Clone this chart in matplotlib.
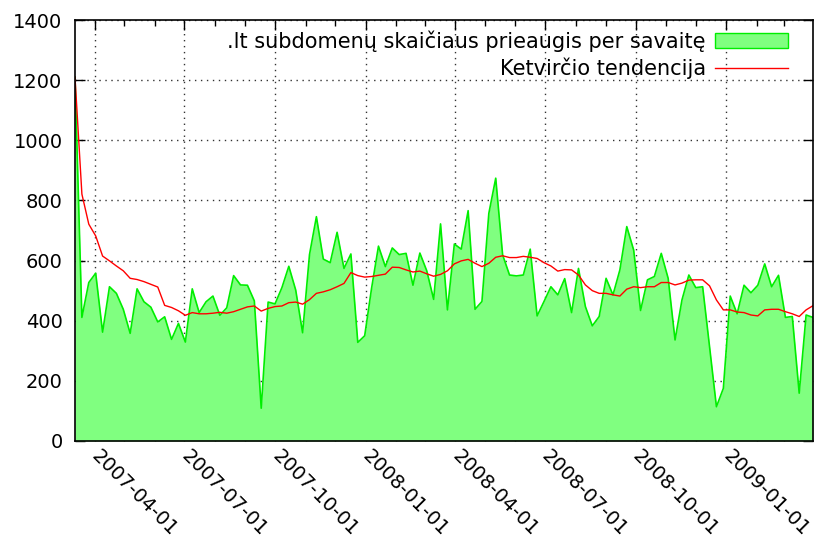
import matplotlib
matplotlib.use('Agg')
import matplotlib.pyplot as plt
from matplotlib import dates
from matplotlib.ticker import MultipleLocator
from matplotlib.patches import Patch
from matplotlib.lines import Line2D
import pandas as pd

# weekly data, first week starts 2007-03-12
first_week = '2007-03-12'

weekly_growth = [
    1210, 411, 527, 558, 362, 513, 491, 438, 358, 506, 463, 445, 396, 413, 338, 391,
    329, 506, 427, 463, 482, 418, 443, 550, 519, 518, 466, 109, 462, 456, 510, 581,
    502, 360, 620, 746, 605, 593, 694, 574, 622, 328, 350, 508, 648, 580, 642, 620,
    624, 518, 625, 566, 471, 722, 436, 655, 638, 766, 438, 464, 757, 874, 619, 552,
    549, 552, 638, 416, 464, 513, 486, 540, 427, 574, 447, 383, 414, 541, 486, 569,
    713, 635, 434, 536, 547, 624, 541, 336, 469, 552, 510, 513, 314, 114, 175, 482,
    423, 518, 493, 518, 589, 513, 551, 411, 414, 159, 419, 411,
]

quarter_trend = [
    1210, 821, 721, 682, 615, 599, 582, 566, 541, 537, 530, 521, 512, 451, 444, 433,
    418, 427, 423, 423, 425, 428, 425, 430, 438, 446, 449, 432, 441, 447, 449, 460,
    462, 455, 470, 491, 496, 503, 513, 524, 560, 550, 545, 547, 551, 555, 578, 577,
    569, 562, 565, 556, 548, 554, 566, 589, 599, 604, 591, 580, 591, 611, 616, 610,
    610, 614, 611, 607, 593, 582, 565, 570, 569, 552, 519, 500, 491, 491, 486, 482,
    505, 513, 510, 513, 513, 527, 527, 519, 525, 535, 536, 536, 516, 469, 436, 436,
    429, 427, 419, 416, 436, 438, 438, 430, 423, 414, 436, 450,
]

labels = ['.lt subdomenų skaičiaus prieaugis per savaitę', 'Ketvirčio tendencija']

weeks = pd.date_range(first_week, periods=len(weekly_growth), freq='7D')

plt.rcParams['font.family'] = 'DejaVu Sans'
fig = plt.figure(figsize=(8.16, 5.45), dpi=100)
ax = fig.add_axes([75 / 816, 1 - 441 / 545, (813 - 75) / 816, (441 - 20) / 545])

ax.fill_between(weeks, weekly_growth, color='#80ff80', lw=0, zorder=2)
ax.plot(weeks, weekly_growth, color='#00ee00', lw=1.2, zorder=3)
ax.plot(weeks, quarter_trend, color='#ff0000', lw=1, zorder=4)

ax.set_xlim(weeks[0], weeks[-1])
ax.set_ylim(0, 1400)
ax.xaxis.set_major_locator(dates.MonthLocator(bymonth=[1, 4, 7, 10]))
ax.xaxis.set_minor_locator(dates.MonthLocator())
ax.xaxis.set_major_formatter(dates.DateFormatter('%Y-%m-%d'))
ax.yaxis.set_major_locator(MultipleLocator(200))

ax.tick_params(which='major', direction='in', top=True, right=True, length=7,
               width=1, labelsize=14)
ax.tick_params(axis='y', pad=9)
ax.tick_params(axis='x', pad=9)
ax.tick_params(which='minor', direction='in', top=True, length=4, width=1)
for lbl in ax.get_xticklabels():
    lbl.set_rotation(-45)
    lbl.set_ha('left')
    lbl.set_va('center')
    lbl.set_rotation_mode('anchor')

ax.set_axisbelow(True)
ax.grid(True, which='major', color='#333333', linestyle=(0, (1, 3.3)), lw=1)
for s in ax.spines.values():
    s.set_linewidth(1.2)
    s.set_zorder(5)

handles = [Patch(facecolor='#80ff80', edgecolor='#00ee00', lw=1),
           Line2D([], [], color='#ff0000', lw=1)]
ax.legend(handles, labels, loc='upper right', frameon=False, markerfirst=False,
          handlelength=3.5, handletextpad=0.45, fontsize=15, borderaxespad=0,
          borderpad=0, labelspacing=0.3,
          bbox_to_anchor=(788 / 816, 1 - 30 / 545), bbox_transform=fig.transFigure)

plt.savefig('out.png', dpi=100)
